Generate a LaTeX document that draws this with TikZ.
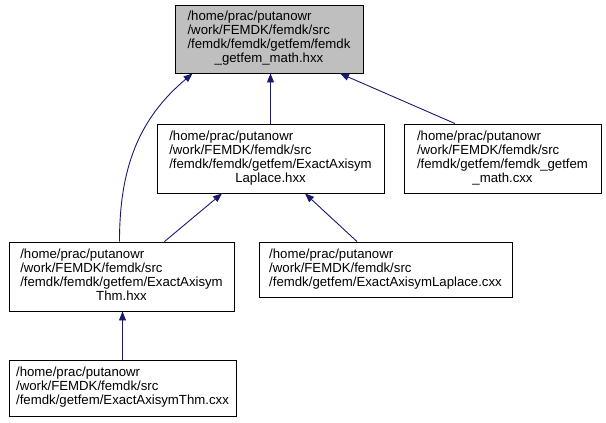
\documentclass[tikz,border=0pt]{standalone}
\usepackage{fontspec}
\setmainfont{Liberation Sans}
\usetikzlibrary{arrows.meta,calc}
\definecolor{edgec}{HTML}{191970}
\definecolor{topfill}{HTML}{BFBFBF}
\newcommand{\flines}[2]{\begin{tabular}{@{}l@{}}#1\\\multicolumn{1}{@{}c@{}}{#2}\end{tabular}}
\newcommand{\plines}[1]{\begin{tabular}{@{}l@{}}#1\end{tabular}}
\begin{document}
\begin{tikzpicture}[x=1pt,y=-1pt,
  box/.style={draw=black, line width=0.9pt, inner sep=0pt, align=left,
    font=\fontsize{13.2}{14}\selectfont},
  edge/.style={draw=edgec, line width=0.9pt, -{Triangle[length=9pt,width=7pt]}}]
\useasboundingbox (0,0) rectangle (606,423);
\node[box, fill=topfill, minimum width=188pt, minimum height=68pt] (top) at (269,39)
  {\flines{/home/prac/putanowr\\/work/FEMDK/femdk/src\\/femdk/femdk/getfem/femdk}{\_getfem\_math.hxx}};
\node[box, minimum width=227pt, minimum height=69pt] (mid) at (270.5,158.5)
  {\flines{/home/prac/putanowr\\/work/FEMDK/femdk/src\\/femdk/femdk/getfem/ExactAxisym}{Laplace.hxx}};
\node[box, minimum width=197pt, minimum height=69pt] (right) at (502.5,158.5)
  {\flines{/home/prac/putanowr\\/work/FEMDK/femdk/src\\/femdk/getfem/femdk\_getfem}{\_math.cxx}};
\node[box, minimum width=225pt, minimum height=69pt] (left) at (121.5,276.5)
  {\flines{/home/prac/putanowr\\/work/FEMDK/femdk/src\\/femdk/femdk/getfem/ExactAxisym}{Thm.hxx}};
\node[box, minimum width=253pt, minimum height=55pt] (rb) at (385.5,269.5)
  {\plines{/home/prac/putanowr\\/work/FEMDK/femdk/src\\/femdk/getfem/ExactAxisymLaplace.cxx}};
\node[box, minimum width=227pt, minimum height=56pt] (bot) at (122.5,388)
  {\plines{/home/prac/putanowr\\/work/FEMDK/femdk/src\\/femdk/getfem/ExactAxisymThm.cxx}};
\draw[edge] ([xshift=-2pt]left.north) to[out=90,in=-140] ([xshift=18pt]top.south west);
\draw[edge] ([xshift=43pt]left.north) -- ([xshift=-48.5pt]mid.south);
\draw[edge] ([xshift=-28.5pt]rb.north) -- ([xshift=34.5pt]mid.south);
\draw[edge] (mid.north) -- (mid.north |- top.south);
\draw[edge] ([xshift=-47.5pt]right.north) -- ([xshift=71pt]top.south);
\draw[edge] (bot.north) -- (bot.north |- left.south);
\end{tikzpicture}
\end{document}
